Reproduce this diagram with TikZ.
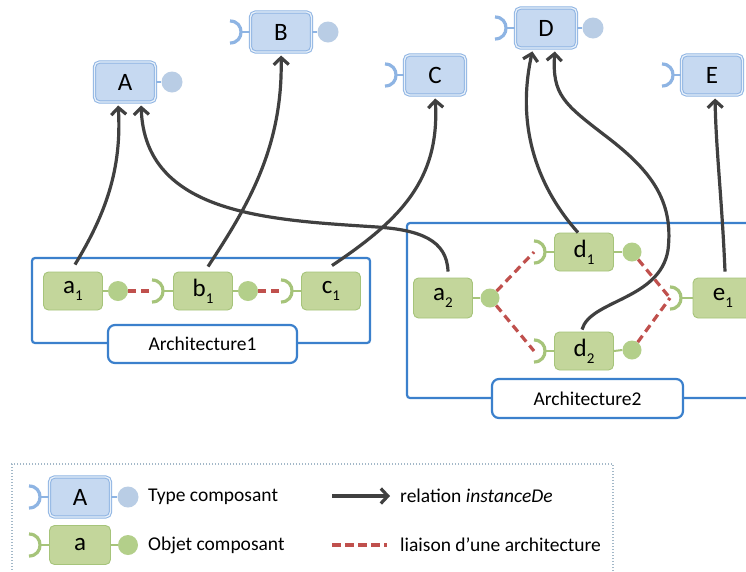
\documentclass[tikz,border=0pt]{standalone}
\usepackage{fontspec}
\setmainfont{Carlito}
\usetikzlibrary{arrows.meta,calc}
\definecolor{tfill}{HTML}{C6D9F1}
\definecolor{tline}{HTML}{8EB4E3}
\definecolor{tballc}{HTML}{B9CDE5}
\definecolor{ofill}{HTML}{C3D69B}
\definecolor{oline}{HTML}{A6C47A}
\definecolor{oballc}{HTML}{B3CF8A}
\definecolor{lred}{HTML}{C0504D}
\definecolor{arrc}{HTML}{404040}
\definecolor{archb}{HTML}{3B80CC}
\definecolor{legb}{HTML}{A3B8C8}
\newcommand\subi[1]{\raisebox{-0.28em}{\fontsize{15}{15}\selectfont #1}}
\newcommand\sockarc[2]{\draw[#2, line width=3.2pt] ($(#1)+(0,-11)$) .. controls ($(#1)+(14.7,-11)$) and ($(#1)+(14.7,11)$) .. ($(#1)+(0,11)$);}
\begin{document}
\begin{tikzpicture}[x=1pt,y=-1pt,
  tbox/.style={rectangle, rounded corners=5pt, minimum width=61pt, minimum height=40pt, fill=tfill, draw=tline, line width=1pt, double=tfill!40!white, double distance=1.3pt, font=\fontsize{25}{28}\selectfont, inner sep=0pt},
  obox/.style={rectangle, rounded corners=5pt, minimum width=59pt, minimum height=38pt, fill=ofill, draw=oline, line width=0.9pt, font=\fontsize{25}{28}\selectfont, inner sep=0pt},
  tball/.style={circle, fill=tballc, minimum size=21pt, inner sep=0pt},
  oball/.style={circle, fill=oballc, minimum size=20pt, inner sep=0pt},
  tstem/.style={tline, line width=2pt},
  ostem/.style={oline, line width=2pt},
  link/.style={lred, line width=3.2pt, dash pattern=on 8pt off 5pt},
  inst/.style={arrc, line width=3.2pt, -{Straight Barb[length=7pt,width=15pt]}, shorten >=3pt},
  archbox/.style={rectangle, draw=archb, line width=2.2pt, rounded corners=3pt, inner sep=0pt},
  archlabel/.style={rectangle, draw=archb, line width=2.2pt, fill=white, rounded corners=7pt, font=\fontsize{19.5}{22}\selectfont, inner sep=0pt},
  legtext/.style={anchor=west, font=\fontsize{19.5}{22}\selectfont, inner sep=0pt}
]
\clip (0,0) rectangle (746,571);
\fill[white] (0,0) rectangle (746,571);

% ---------- Architecture frames ----------
\node[archbox, minimum width=338pt, minimum height=85pt] (arch1) at (201,300.5) {};
\node[archlabel, minimum width=189pt, minimum height=38pt] (lab1) at (202.5,344) {Architecture1};
\node[archbox, minimum width=353pt, minimum height=175pt] (arch2) at (583.5,310.5) {};
\node[archlabel, minimum width=191pt, minimum height=39pt] (lab2) at (587.5,398.5) {Architecture2};

% ---------- Component types ----------
\node[tbox] (A) at (125,82) {A};
\node[tball] (Ab) at (172,82) {};
\draw[tstem] (A.east) -- (Ab.west);

\node[tbox] (B) at (281,32) {B};
\node[tball] (Bb) at (328,32) {};
\coordinate (Bs) at (230,32);
\sockarc{Bs}{tline}
\draw[tstem] ($(Bs)+(11,0)$) -- (B.west);
\draw[tstem] (B.east) -- (Bb.west);

\node[tbox] (C) at (435,75) {C};
\coordinate (Cs) at (385,75);
\sockarc{Cs}{tline}
\draw[tstem] ($(Cs)+(11,0)$) -- (C.west);

\node[tbox] (D) at (546,28) {D};
\node[tball] (Db) at (593,28) {};
\coordinate (Ds) at (495,28);
\sockarc{Ds}{tline}
\draw[tstem] ($(Ds)+(11,0)$) -- (D.west);
\draw[tstem] (D.east) -- (Db.west);

\node[tbox] (E) at (712,75) {E};
\coordinate (Es) at (662,75);
\sockarc{Es}{tline}
\draw[tstem] ($(Es)+(11,0)$) -- (E.west);

% ---------- Architecture 1 ----------
\node[obox] (a1) at (73,291) {a\subi{1}};
\node[oball] (a1b) at (118,291) {};
\draw[ostem] (a1.east) -- (a1b.west);

\node[obox] (b1) at (203,291) {b\subi{1}};
\node[oball] (b1b) at (248,291) {};
\coordinate (b1m) at (152,291);
\sockarc{b1m}{oline}
\draw[ostem] ($(b1m)+(11,0)$) -- (b1.west);
\draw[ostem] (b1.east) -- (b1b.west);

\node[obox] (c1) at (331,291) {c\subi{1}};
\coordinate (c1m) at (281,291);
\sockarc{c1m}{oline}
\draw[ostem] ($(c1m)+(11,0)$) -- (c1.west);

\draw[link] (a1b) -- (b1m);
\draw[link] (b1b) -- (c1m);

% ---------- Architecture 2 ----------
\node[obox, minimum height=40pt] (a2) at (443,298) {a\subi{2}};
\node[oball, minimum size=19pt] (a2b) at (490,298) {};
\draw[ostem] (a2.east) -- (a2b.west);

\node[obox] (d1) at (584,252) {d\subi{1}};
\node[oball, minimum size=19pt] (d1b) at (632,252) {};
\coordinate (d1m) at (534,252);
\sockarc{d1m}{oline}
\draw[ostem] ($(d1m)+(11,0)$) -- (d1.west);
\draw[ostem] (d1.east) -- (d1b.west);

\node[obox] (d2) at (584,351) {d\subi{2}};
\node[oball, minimum size=19pt] (d2b) at (632,350) {};
\coordinate (d2m) at (534,351);
\sockarc{d2m}{oline}
\draw[ostem] ($(d2m)+(11,0)$) -- (d2.west);
\draw[ostem] (d2.east) -- (d2b.west);

\node[obox, minimum width=60pt, minimum height=40pt] (e1) at (723,298) {e\subi{1}};
\coordinate (e1m) at (670,298);
\sockarc{e1m}{oline}
\draw[ostem] ($(e1m)+(11,0)$) -- (e1.west);

\draw[link] (a2b) -- (d1m);
\draw[link] (a2b) -- (d2m);
\draw[link] (d1b) -- (e1m);
\draw[link] (d2b) -- (e1m);

% ---------- instanceDe relations ----------
\draw[inst] ([shift={(2,-7)}]a1.north) .. controls (105,215) and (122,170) .. ([xshift=-7]A.south);
\draw[inst] ([shift={(5,-6)}]a2.north) .. controls (447,240) and (420,230) .. (377,227)
   .. controls (270,220) and (145,215) .. ([xshift=16]A.south);
\draw[inst] ([shift={(5,-5)}]b1.north) .. controls (245,210) and (283,150) .. (B.south);
\draw[inst] ([shift={(1,-6)}]c1.north) .. controls (400,220) and (440,180) .. (C.south);
\draw[inst] ([shift={(-6,0)}]d1.north) .. controls (540,190) and (515,130) .. ([xshift=-13]D.south);
\draw[inst] ([shift={(-2,-2)}]d2.north) .. controls (590,300) and (660,300) .. (668,250)
   .. controls (674,200) and (650,170) .. (607,137)
   .. controls (564,104) and (552,95) .. ([xshift=9]D.south);
\draw[inst] ([shift={(2,-6)}]e1.north) .. controls (722,200) and (716,150) .. ([xshift=3]E.south);

% ---------- Legend ----------
\node[rectangle, draw=legb, line width=1.4pt, dash pattern=on 1.4pt off 1.6pt, minimum width=601pt, minimum height=130pt, inner sep=0pt] (leg) at (312.5,529) {};

\node[tbox] (LA) at (80,497) {A};
\node[tball] (LAb) at (128,497) {};
\coordinate (LAs) at (29,497);
\sockarc{LAs}{tline}
\draw[tstem] ($(LAs)+(11,0)$) -- (LA.west);
\draw[tstem] (LA.east) -- (LAb.west);
\node[legtext] (LAt) at (148,497) {Type composant};

\node[obox, minimum width=61pt, minimum height=39pt] (La) at (80,545) {a};
\node[oball] (Lab) at (128,545) {};
\coordinate (Las) at (29,545);
\sockarc{Las}{oline}
\draw[ostem] ($(Las)+(11,0)$) -- (La.west);
\draw[ostem] (La.east) -- (Lab.west);
\node[legtext] (Lat) at (148,545) {Objet composant};

\coordinate (lr1) at (332,496);
\coordinate (lr2) at (390,496);
\draw[inst, shorten >=0pt] (lr1) -- (lr2);
\node[legtext] (lrt) at (400,496) {relation \textit{instanceDe}};

\coordinate (ll1) at (332,545);
\coordinate (ll2) at (387,545);
\draw[link, dash pattern=on 9pt off 4pt] (ll1) -- (ll2);
\node[legtext] (llt) at (400,545) {liaison d’une architecture};
\end{tikzpicture}
\end{document}
